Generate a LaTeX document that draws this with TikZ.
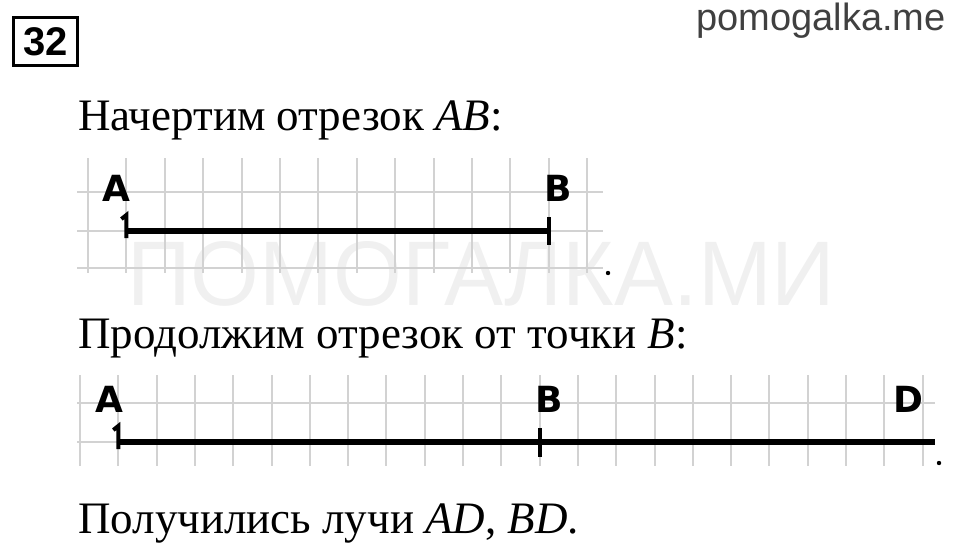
\documentclass[tikz,border=0pt]{standalone}
\usepackage{fontspec}
\setmainfont{Liberation Serif}
\newfontfamily\lblfont{DejaVu Sans}
\newfontfamily\numfont{Liberation Sans}
\definecolor{gridgray}{HTML}{D2D2D2}
\definecolor{sitegray}{HTML}{404040}
\definecolor{wmgray}{HTML}{F0F0F0}
\tikzset{
  gridline/.style={draw=gridgray,line width=2pt},
  seg/.style={draw,line width=5.5pt},
  tick/.style={draw,line width=4pt},
  lbl/.style={inner sep=0pt,font=\lblfont\bfseries\fontsize{36}{36}\selectfont},
  txt/.style={anchor=base west,inner sep=0pt,font=\fontsize{45}{45}\selectfont}
}
\begin{document}
\begin{tikzpicture}[x=1pt,y=-1pt]
\useasboundingbox (0,0) rectangle (960,552);

% number and site name
\node[draw,line width=2.5pt,minimum width=64pt,minimum height=48pt,inner sep=0pt,
  font=\numfont\bfseries\fontsize{40}{40}\selectfont] (num) at (45.5,41.5) {32};
\node[anchor=base east,inner sep=0pt,text=sitegray,
  font=\numfont\fontsize{38}{38}\selectfont] (site) at (946,30) {pomogalka.me};

% watermark
\node[anchor=south west,inner sep=0pt,text=wmgray,font=\numfont] (wm) at (127,307)
  {\resizebox{708pt}{64pt}{ПОМОГАЛКА.МИ}};

% first picture
\node[txt] (t1) at (78,130) {Начертим отрезок \textit{AB}:};
\foreach \i in {0,...,13}
  \path[gridline] (88+38.4*\i,158) -- (88+38.4*\i,273);
\foreach \y in {192,231,268}
  \path[gridline] (77,\y) -- (603,\y);
\coordinate (a1) at (126.4,231);
\coordinate (b1) at (548.8,231);
\path[seg] (a1) -- (b1);
\path[tick] ([xshift=-5pt,yshift=12pt]a1) -- ([yshift=16pt]a1) -- ([yshift=-7pt]a1);
\path[tick] ([yshift=14pt]b1) -- ([yshift=-14pt]b1);
\node[lbl] (A1) at (116,188) {A};
\node[lbl] (B1) at (558,188) {B};
\fill (608,273) circle (2.2pt);

% second picture
\node[txt] (t2) at (78,348) {Продолжим отрезок от точки \textit{B}:};
\foreach \i in {0,...,22}
  \path[gridline] (80+38.3*\i,375) -- (80+38.3*\i,466);
\foreach \y in {403,442}
  \path[gridline] (77,\y) -- (935,\y);
\coordinate (a2) at (118.3,442);
\coordinate (b2) at (539.6,442);
\coordinate (d2) at (935,442);
\path[seg] (a2) -- (d2);
\path[tick] ([xshift=-5pt,yshift=12pt]a2) -- ([yshift=16pt]a2) -- ([yshift=-7pt]a2);
\path[tick] ([yshift=14pt]b2) -- ([yshift=-15pt]b2);
\node[lbl] (A2) at (109,399) {A};
\node[lbl] (B2) at (549,399) {B};
\node[lbl] (D2) at (908,399) {D};
\fill (939,463) circle (2.2pt);

\node[txt] (t3) at (78,533) {Получились лучи \textit{AD}, \textit{BD}.};
\end{tikzpicture}
\end{document}
